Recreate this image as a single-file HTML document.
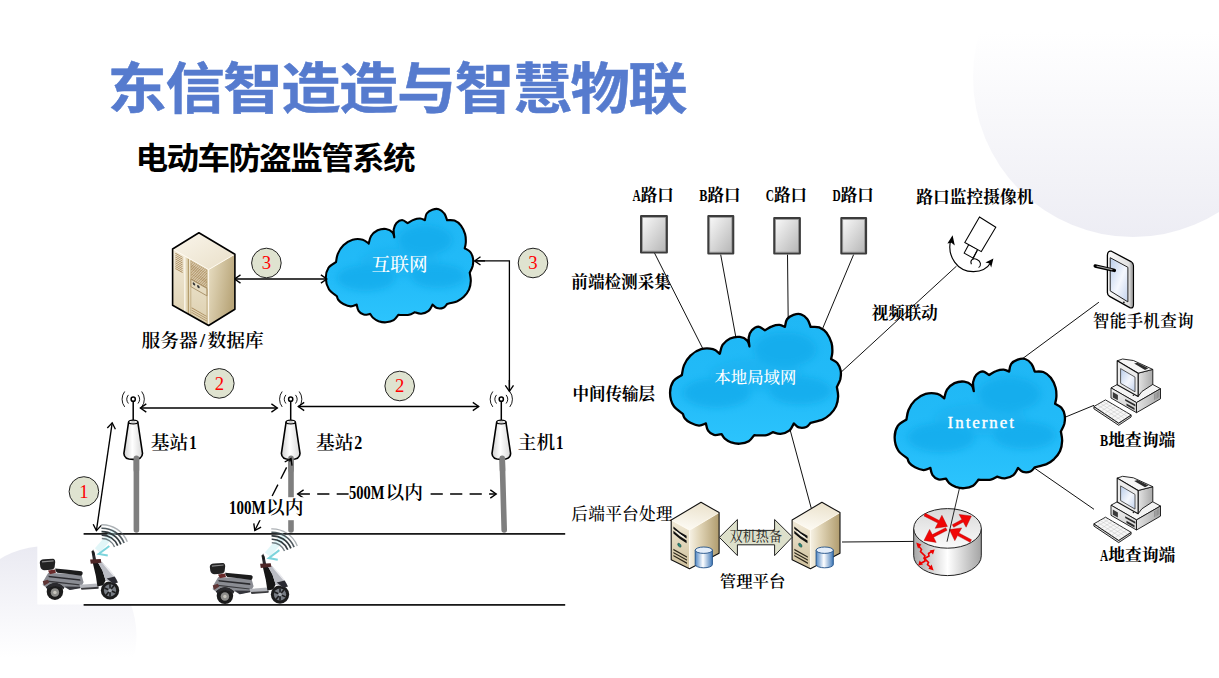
<!DOCTYPE html>
<html lang="zh"><head><meta charset="utf-8"><title>东信智造造与智慧物联</title>
<style>
html,body{margin:0;padding:0;background:#fff;}
body{width:1219px;height:678px;overflow:hidden;position:relative;}
svg{display:block;position:absolute;left:0;top:0;}
.t1{font-family:"Liberation Sans","Noto Sans CJK SC",sans-serif;font-weight:700;}
.sf{font-family:"Liberation Serif","Noto Serif CJK SC",serif;}
.mono{font-family:"Liberation Mono","Noto Serif CJK SC",monospace;}
</style></head><body>
<svg width="1219" height="678" viewBox="0 0 1219 678">
<defs>
<linearGradient id="gTR" x1="0" y1="0" x2="0" y2="1"><stop offset="0.36" stop-color="#ffffff"/><stop offset="1" stop-color="#ededf4"/></linearGradient>
<linearGradient id="gBL" x1="0" y1="0" x2="0" y2="1"><stop offset="0" stop-color="#eaeaf2"/><stop offset="0.32" stop-color="#f5f5f9"/><stop offset="0.62" stop-color="#ffffff"/></linearGradient>
<linearGradient id="gCloud" x1="0" y1="0" x2="0" y2="1"><stop offset="0" stop-color="#1fb7f5"/><stop offset="0.6" stop-color="#22bbf8"/><stop offset="1" stop-color="#2cc4fd"/></linearGradient>
<linearGradient id="gBox" x1="0" y1="0" x2="1" y2="1"><stop offset="0" stop-color="#fbfbfb"/><stop offset="1" stop-color="#b4b4b4"/></linearGradient>
<linearGradient id="gCone" x1="0" y1="0" x2="1" y2="0"><stop offset="0" stop-color="#d0d0d0"/><stop offset="0.45" stop-color="#ffffff"/><stop offset="1" stop-color="#d8d8d8"/></linearGradient>
<filter id="blur3" x="-30%" y="-30%" width="160%" height="160%"><feGaussianBlur stdDeviation="3"/></filter>
<filter id="blur1" x="-30%" y="-30%" width="160%" height="160%"><feGaussianBlur stdDeviation="0.7"/></filter>
</defs>
<circle cx="1133" cy="77" r="160" fill="url(#gTR)"/>
<circle cx="46.5" cy="636" r="90" fill="url(#gBL)"/>
<rect x="37.3" y="526.5" width="100" height="78" fill="#fff"/>
<rect x="207" y="534" width="93" height="70" fill="#fff"/>
<text class="t1" transform="translate(107.60 108.40) scale(1.06 0.968)" font-size="56" fill="#567bce" letter-spacing="-1.4" stroke="#567bce" stroke-width="0.5">东信智造造与智慧物联</text>
<text class="t1" transform="translate(135.60 168.80) scale(1.07 0.99)" font-size="30.5" fill="#000" letter-spacing="-1.58">电动车防盗监管系统</text>
<defs><path id="cloudp" d="M336.9 296.3C335.6 295.1 330.8 292.4 328.9 289.3C327.1 286.3 325.8 281.7 325.8 278.1C325.7 274.5 326.8 270.5 328.5 267.8C330.2 265.1 334.7 263.1 336.0 262.2C336.3 260.8 336.6 256.6 337.8 253.8C339.0 250.9 340.9 247.7 343.4 245.3C345.8 243.0 349.4 240.6 352.6 239.7C355.9 238.8 360.1 239.0 362.8 239.7C365.5 240.4 367.8 243.0 368.7 243.6C369.1 242.4 369.7 238.2 371.1 236.0C372.6 233.7 375.2 231.5 377.6 230.3C380.1 229.2 383.5 228.7 386.0 229.0C388.4 229.3 391.1 230.8 392.4 232.2C393.8 233.6 394.0 236.4 394.3 237.3C394.2 236.0 393.4 231.8 393.7 229.4C394.1 227.0 395.1 224.6 396.5 223.0C397.9 221.5 400.2 220.0 402.1 220.0C403.9 220.1 406.7 222.7 407.6 223.2C408.7 222.6 411.7 220.4 413.8 219.7C415.9 218.9 418.4 218.4 420.2 218.5C422.1 218.6 424.1 219.9 424.9 220.2C425.2 219.1 425.5 215.2 426.7 213.5C428.0 211.7 430.3 210.4 432.3 209.7C434.3 209.0 436.8 208.5 438.8 209.2C440.8 209.8 442.9 211.6 444.3 213.5C445.7 215.3 446.6 219.1 447.1 220.2C448.3 220.3 452.2 219.7 454.5 220.6C456.8 221.5 459.2 223.4 461.0 225.6C462.7 227.9 464.3 231.3 465.1 234.1C465.9 236.9 465.9 240.1 465.8 242.5C465.7 244.9 464.9 247.4 464.7 248.3C465.6 248.9 468.9 250.2 470.2 251.9C471.6 253.6 472.6 256.1 473.0 258.4C473.4 260.8 473.2 263.6 472.7 265.9C472.1 268.3 470.2 271.5 469.7 272.7C469.9 274.0 470.9 278.1 470.8 280.9C470.7 283.8 470.1 287.1 469.0 289.7C467.8 292.4 465.7 294.9 463.8 296.8C461.8 298.7 460.1 300.0 457.3 301.2C454.5 302.3 448.8 303.5 447.1 304.0C446.5 304.6 445.1 307.0 443.4 307.7C441.7 308.4 438.7 308.6 436.9 308.1C435.1 307.6 433.4 305.1 432.6 304.5C432.0 305.6 430.5 309.4 428.6 310.9C426.7 312.4 423.5 313.5 421.2 313.7C418.8 313.9 415.8 312.5 414.7 312.2C413.8 312.6 411.1 314.4 409.1 314.8C407.2 315.3 404.8 315.0 403.0 315.0C401.2 315.0 399.1 314.9 398.4 314.8C397.6 315.7 395.8 318.8 393.7 320.1C391.7 321.3 388.5 322.1 386.0 322.3C383.4 322.5 380.7 321.9 378.6 321.2C376.4 320.4 374.4 319.0 373.0 317.8C371.6 316.6 370.7 314.5 370.2 313.9C369.1 314.0 365.7 315.1 363.7 314.6C361.8 314.1 359.7 312.6 358.6 310.9C357.4 309.2 357.0 305.6 356.7 304.5C355.7 304.8 353.0 306.5 350.8 306.4C348.5 306.3 345.4 305.0 343.4 304.0C341.3 302.9 339.4 301.3 338.4 300.0C337.3 298.7 337.1 296.9 336.9 296.3Z"/><clipPath id="cloudclip"><use href="#cloudp"/></clipPath></defs>
<rect x="83.6" y="533.1" width="481.6" height="1.6" fill="#000"/>
<rect x="83.6" y="604.1" width="481.6" height="1.6" fill="#000"/>
<line x1="136.4" y1="458" x2="136.4" y2="530" stroke="#7f7f7f" stroke-width="5.6" stroke-linecap="round"/>
<line x1="291" y1="458" x2="291" y2="530" stroke="#7f7f7f" stroke-width="5.6" stroke-linecap="round"/>
<line x1="502.2" y1="458" x2="504.2" y2="530" stroke="#7f7f7f" stroke-width="5.6" stroke-linecap="round"/>
<g fill="none" stroke="#000"><path d="M128.4 394.9 A6.5 6.8 0 0 0 128.4 403.5" stroke-width="0.9"/><path d="M138.0 394.9 A6.5 6.8 0 0 1 138.0 403.5" stroke-width="0.9"/><path d="M124.7 391.5 A11.5 12.1 0 0 0 124.7 406.9" stroke-width="0.9"/><path d="M141.7 391.5 A11.5 12.1 0 0 1 141.7 406.9" stroke-width="0.9"/><line x1="133.2" y1="401.2" x2="133.2" y2="421" stroke-width="1.5"/><circle cx="133.2" cy="399.2" r="2.1" fill="#fff" stroke-width="1.5"/><path d="M128.6 422 L123.9 453.4 C124.0 458 128.7 459.4 133.2 459.4 C137.7 459.4 142.4 458 142.5 453.4 L137.8 422 Z" fill="url(#gCone)" stroke-width="1.6" stroke-linejoin="round"/><ellipse cx="133.2" cy="422" rx="4.6" ry="1.9" fill="#f4f4f4" stroke-width="1.2"/><ellipse cx="133.2" cy="422.3" rx="2.2" ry="0.8" fill="#ddd" stroke="#999" stroke-width="0.4"/></g>
<g fill="none" stroke="#000"><path d="M285.9 394.9 A6.5 6.8 0 0 0 285.9 403.5" stroke-width="0.9"/><path d="M295.5 394.9 A6.5 6.8 0 0 1 295.5 403.5" stroke-width="0.9"/><path d="M282.2 391.5 A11.5 12.1 0 0 0 282.2 406.9" stroke-width="0.9"/><path d="M299.2 391.5 A11.5 12.1 0 0 1 299.2 406.9" stroke-width="0.9"/><line x1="290.7" y1="401.2" x2="290.7" y2="421" stroke-width="1.5"/><circle cx="290.7" cy="399.2" r="2.1" fill="#fff" stroke-width="1.5"/><path d="M286.1 422 L281.4 453.4 C281.5 458 286.2 459.4 290.7 459.4 C295.2 459.4 299.9 458 300.0 453.4 L295.3 422 Z" fill="url(#gCone)" stroke-width="1.6" stroke-linejoin="round"/><ellipse cx="290.7" cy="422" rx="4.6" ry="1.9" fill="#f4f4f4" stroke-width="1.2"/><ellipse cx="290.7" cy="422.3" rx="2.2" ry="0.8" fill="#ddd" stroke="#999" stroke-width="0.4"/></g>
<g fill="none" stroke="#000"><path d="M496.5 394.9 A6.5 6.8 0 0 0 496.5 403.5" stroke-width="0.9"/><path d="M506.1 394.9 A6.5 6.8 0 0 1 506.1 403.5" stroke-width="0.9"/><path d="M492.8 391.5 A11.5 12.1 0 0 0 492.8 406.9" stroke-width="0.9"/><path d="M509.8 391.5 A11.5 12.1 0 0 1 509.8 406.9" stroke-width="0.9"/><line x1="501.3" y1="401.2" x2="501.3" y2="421" stroke-width="1.5"/><circle cx="501.3" cy="399.2" r="2.1" fill="#fff" stroke-width="1.5"/><path d="M496.7 422 L492.0 453.4 C492.1 458 496.8 459.4 501.3 459.4 C505.8 459.4 510.5 458 510.6 453.4 L505.9 422 Z" fill="url(#gCone)" stroke-width="1.6" stroke-linejoin="round"/><ellipse cx="501.3" cy="422" rx="4.6" ry="1.9" fill="#f4f4f4" stroke-width="1.2"/><ellipse cx="501.3" cy="422.3" rx="2.2" ry="0.8" fill="#ddd" stroke="#999" stroke-width="0.4"/></g>
<line x1="136.4" y1="458.2" x2="136.4" y2="470" stroke="#7f7f7f" stroke-width="5.6" stroke-linecap="round"/>
<line x1="291" y1="458.2" x2="291" y2="470" stroke="#7f7f7f" stroke-width="5.6" stroke-linecap="round"/>
<line x1="502.2" y1="458.2" x2="502.5" y2="470" stroke="#7f7f7f" stroke-width="5.6" stroke-linecap="round"/>
<circle cx="266.4" cy="263" r="14.8" fill="#dfe3d0" stroke="#222" stroke-width="1"/>
<text class="sf" x="266.4" y="269.3" font-size="18.7" fill="#f00" font-weight="500" text-anchor="middle">3</text>
<circle cx="533" cy="263" r="14.8" fill="#dfe3d0" stroke="#222" stroke-width="1"/>
<text class="sf" x="533" y="269.3" font-size="18.7" fill="#f00" font-weight="500" text-anchor="middle">3</text>
<circle cx="219.3" cy="383.4" r="14.8" fill="#dfe3d0" stroke="#222" stroke-width="1"/>
<text class="sf" x="219.3" y="389.7" font-size="18.7" fill="#f00" font-weight="500" text-anchor="middle">2</text>
<circle cx="399.7" cy="386" r="14.8" fill="#dfe3d0" stroke="#222" stroke-width="1"/>
<text class="sf" x="399.7" y="392.3" font-size="18.7" fill="#f00" font-weight="500" text-anchor="middle">2</text>
<circle cx="83.9" cy="491.5" r="14.8" fill="#dfe3d0" stroke="#222" stroke-width="1"/>
<text class="sf" x="83.9" y="497.8" font-size="18.7" fill="#f00" font-weight="500" text-anchor="middle">1</text>
<g transform="translate(326.00 208.30) scale(1 1) translate(-326 -208.3)">
<use href="#cloudp" fill="url(#gCloud)"/>
<g clip-path="url(#cloudclip)" filter="url(#blur3)" fill="#0ea5e6" opacity="0.55">
<ellipse cx="425" cy="240" rx="27" ry="15"/><ellipse cx="366" cy="278" rx="29" ry="13"/><ellipse cx="438" cy="276" rx="27" ry="12"/><ellipse cx="400" cy="262" rx="40" ry="14" opacity="0.5"/>
</g>
<use href="#cloudp" fill="none" stroke="#000" stroke-width="2.1" stroke-linejoin="round"/>
</g>
<text class="sf" x="371.6" y="270.6" font-size="18.7" fill="#fff" font-weight="500">互联网</text>
<line x1="234.6" y1="279.0" x2="326.8" y2="279.0" stroke="#000" stroke-width="1.35"/><polyline points="320.9,274.9 326.8,279.0 320.9,283.1" fill="none" stroke="#000" stroke-width="1.35" stroke-linejoin="miter"/><polyline points="240.5,283.1 234.6,279.0 240.5,274.9" fill="none" stroke="#000" stroke-width="1.35" stroke-linejoin="miter"/>
<polyline points="509.4,390 509.4,260.9 475.5,260.9" fill="none" stroke="#000" stroke-width="1.3"/>
<line x1="509.4" y1="380.0" x2="509.4" y2="391.3" stroke="#000" stroke-width="1.35"/><polyline points="513.5,385.4 509.4,391.3 505.3,385.4" fill="none" stroke="#000" stroke-width="1.35" stroke-linejoin="miter"/>
<line x1="485.0" y1="260.9" x2="474.6" y2="260.9" stroke="#000" stroke-width="1.35"/><polyline points="480.5,265.0 474.6,260.9 480.5,256.8" fill="none" stroke="#000" stroke-width="1.35" stroke-linejoin="miter"/>
<line x1="140.4" y1="408.0" x2="277.3" y2="408.0" stroke="#000" stroke-width="1.35"/><polyline points="271.4,403.9 277.3,408.0 271.4,412.1" fill="none" stroke="#000" stroke-width="1.35" stroke-linejoin="miter"/><polyline points="146.3,412.1 140.4,408.0 146.3,403.9" fill="none" stroke="#000" stroke-width="1.35" stroke-linejoin="miter"/>
<line x1="298.3" y1="406.5" x2="478.7" y2="406.5" stroke="#000" stroke-width="1.35"/><polyline points="472.8,402.4 478.7,406.5 472.8,410.6" fill="none" stroke="#000" stroke-width="1.35" stroke-linejoin="miter"/><polyline points="304.2,410.6 298.3,406.5 304.2,402.4" fill="none" stroke="#000" stroke-width="1.35" stroke-linejoin="miter"/>
<line x1="112.2" y1="422.8" x2="96.4" y2="530.6" stroke="#000" stroke-width="1.35"/><polyline points="101.3,525.4 96.4,530.6 93.2,524.2" fill="none" stroke="#000" stroke-width="1.35" stroke-linejoin="miter"/><polyline points="107.3,428.0 112.2,422.8 115.4,429.2" fill="none" stroke="#000" stroke-width="1.35" stroke-linejoin="miter"/>
<line x1="254.8" y1="530.5" x2="291.0" y2="458.6" stroke="#000" stroke-width="1.35" stroke-dasharray="12.8 6.5"/><polyline points="284.7,462.0 291.0,458.6 292.0,465.7" fill="none" stroke="#000" stroke-width="1.35" stroke-linejoin="miter"/><polyline points="261.1,527.1 254.8,530.5 253.8,523.4" fill="none" stroke="#000" stroke-width="1.35" stroke-linejoin="miter"/>
<line x1="297.7" y1="494.0" x2="348.6" y2="494.0" stroke="#000" stroke-width="1.35" stroke-dasharray="12.2 7.3"/><polyline points="303.6,498.1 297.7,494.0 303.6,489.9" fill="none" stroke="#000" stroke-width="1.35" stroke-linejoin="miter"/>
<line x1="430.6" y1="494.0" x2="496.2" y2="494.0" stroke="#000" stroke-width="1.35" stroke-dasharray="12.2 7.3"/><polyline points="490.3,489.9 496.2,494.0 490.3,498.1" fill="none" stroke="#000" stroke-width="1.35" stroke-linejoin="miter"/>
<defs><linearGradient id="twTop" x1="0" y1="0" x2="1" y2="1"><stop offset="0" stop-color="#faf6ec"/><stop offset="1" stop-color="#e9dfc8"/></linearGradient><linearGradient id="twL" x1="0" y1="0" x2="0" y2="1"><stop offset="0" stop-color="#f3ebd9"/><stop offset="1" stop-color="#dccfae"/></linearGradient><linearGradient id="twR" x1="0" y1="0" x2="1" y2="0.4"><stop offset="0" stop-color="#e9dfc4"/><stop offset="1" stop-color="#b9a67a"/></linearGradient></defs><g stroke-linejoin="round"><polygon points="198.9,232.8 234.9,254.2 208.6,269.6 172.6,249.0" fill="url(#twTop)"/><polygon points="172.6,249.0 208.6,269.6 208.6,325.5 172.6,305.3" fill="url(#twL)"/><polygon points="208.6,269.6 234.9,254.2 234.9,309.3 208.6,325.5" fill="url(#twR)"/><g transform="matrix(1 0.5722 0 1 172.6 249.0)"><rect x="11.4" y="0.5" width="5" height="55.5" fill="#e3d7b8"/><rect x="11.4" y="0.5" width="1.6" height="55.5" fill="#f8f3e6"/><rect x="15.2" y="0.5" width="1.2" height="55.5" fill="#b59e6e"/><rect x="2.8" y="2.2" width="7.2" height="0.9" fill="#a8895a"/><rect x="2.8" y="4.1" width="7.2" height="0.9" fill="#a8895a"/><rect x="2.8" y="6.0" width="7.2" height="0.9" fill="#a8895a"/><rect x="2.8" y="7.9" width="7.2" height="0.9" fill="#a8895a"/><rect x="2.8" y="9.8" width="7.2" height="0.9" fill="#a8895a"/><rect x="2.8" y="11.7" width="7.2" height="0.9" fill="#a8895a"/><rect x="2.8" y="13.6" width="7.2" height="0.9" fill="#a8895a"/><rect x="2.8" y="15.5" width="7.2" height="0.9" fill="#a8895a"/><rect x="2.8" y="17.4" width="7.2" height="0.9" fill="#a8895a"/><rect x="18.2" y="1.5" width="16.2" height="0.9" fill="#a8895a"/><rect x="18.2" y="3.0" width="16.2" height="0.9" fill="#a8895a"/><rect x="18.2" y="4.6" width="16.2" height="0.9" fill="#a8895a"/><rect x="18.2" y="6.2" width="16.2" height="0.9" fill="#a8895a"/><rect x="18.2" y="7.7" width="16.2" height="0.9" fill="#a8895a"/><rect x="18.2" y="9.2" width="16.2" height="0.9" fill="#a8895a"/><rect x="18.2" y="10.8" width="16.2" height="0.9" fill="#a8895a"/><rect x="18.2" y="12.3" width="16.2" height="0.9" fill="#a8895a"/><rect x="18.2" y="13.9" width="16.2" height="0.9" fill="#a8895a"/><rect x="18.2" y="15.5" width="16.2" height="0.9" fill="#a8895a"/><rect x="18.2" y="17.0" width="16.2" height="0.9" fill="#a8895a"/><rect x="18.2" y="18.6" width="16.2" height="0.9" fill="#a8895a"/><rect x="18.2" y="19.8" width="16.2" height="7.4" fill="#e6dbc0" stroke="#9a8258" stroke-width="0.7"/><circle cx="21.4" cy="22.7" r="1.3" fill="#333"/><circle cx="25.8" cy="22.9" r="1.3" fill="#333"/><rect x="18.2" y="0.8" width="16.2" height="54.6" fill="none" stroke="#b59e6e" stroke-width="0.6"/><rect x="19" y="47.5" width="15" height="0.8" fill="#a8895a"/><rect x="19" y="49.8" width="15" height="0.8" fill="#a8895a"/><rect x="19" y="52.1" width="15" height="0.8" fill="#a8895a"/></g><polyline points="172.6,249.0 208.6,269.6 234.9,254.2" fill="none" stroke="#fffaf0" stroke-width="1"/><line x1="208.6" y1="269.6" x2="208.6" y2="325.5" stroke="#fffaf0" stroke-width="0.9"/><polygon points="198.9,232.8 234.9,254.2 234.9,309.3 208.6,325.5 172.6,305.3 172.6,249.0" fill="none" stroke="#000" stroke-width="1.6"/></g>
<text class="sf" transform="translate(141.60 347.00) scale(1 1)" font-size="18.7" fill="#000" font-weight="600">服务器</text>
<text class="sf" transform="translate(200.00 347.00) scale(1 1)" font-size="18.7" fill="#000" font-weight="600">/</text>
<text class="sf" transform="translate(207.60 347.00) scale(1 1)" font-size="18.7" fill="#000" font-weight="600">数据库</text>
<text class="sf" transform="translate(150.80 449.20) scale(1 1)" font-size="18.7" fill="#000" font-weight="600">基站</text>
<text class="sf" transform="translate(316.00 449.20) scale(1 1)" font-size="18.7" fill="#000" font-weight="600">基站</text>
<text class="sf" transform="translate(517.80 449.20) scale(1 1)" font-size="18.7" fill="#000" font-weight="600">主机</text>
<text class="sf" x="189.2" y="449.2" font-size="18.7" fill="#000" textLength="7.5" lengthAdjust="spacingAndGlyphs" font-weight="600">1</text>
<text class="sf" x="354.2" y="449.2" font-size="18.7" fill="#000" textLength="8.0" lengthAdjust="spacingAndGlyphs" font-weight="600">2</text>
<text class="sf" x="556.0" y="449.2" font-size="18.7" fill="#000" textLength="7.5" lengthAdjust="spacingAndGlyphs" font-weight="600">1</text>
<rect x="228" y="497.2" width="76" height="23" fill="#fff"/>
<text class="sf" x="229.0" y="514.3" font-size="18.7" fill="#000" textLength="36.6" lengthAdjust="spacingAndGlyphs" font-weight="600">100M</text>
<text class="sf" transform="translate(266.00 514.30) scale(1 1)" font-size="18.7" fill="#000" font-weight="600">以内</text>
<text class="sf" x="349.0" y="499.4" font-size="18.7" fill="#000" textLength="35.5" lengthAdjust="spacingAndGlyphs" font-weight="600">500M</text>
<text class="sf" transform="translate(385.50 499.40) scale(1 1)" font-size="18.7" fill="#000" font-weight="600">以内</text>
<line x1="654.2" y1="252.4" x2="703.0" y2="349.0" stroke="#111" stroke-width="1.0"/>
<line x1="720.7" y1="254.6" x2="736.0" y2="338.0" stroke="#111" stroke-width="1.0"/>
<line x1="787.5" y1="254.6" x2="788.2" y2="320.0" stroke="#111" stroke-width="1.0"/>
<line x1="853.6" y1="254.6" x2="822.0" y2="330.0" stroke="#111" stroke-width="1.0"/>
<line x1="956.5" y1="266.1" x2="838.0" y2="375.0" stroke="#111" stroke-width="1.0"/>
<line x1="790.0" y1="429.5" x2="811.2" y2="508.0" stroke="#111" stroke-width="1.0"/>
<line x1="842.0" y1="542.0" x2="914.5" y2="541.4" stroke="#111" stroke-width="1.0"/>
<line x1="1098.9" y1="302.2" x2="1020.0" y2="360.5" stroke="#111" stroke-width="1.0"/>
<line x1="1094.0" y1="405.3" x2="1062.0" y2="418.5" stroke="#111" stroke-width="1.0"/>
<line x1="1094.0" y1="509.3" x2="1030.0" y2="465.0" stroke="#111" stroke-width="1.0"/>
<rect x="641.1" y="216.2" width="25.7" height="36.3" fill="url(#gBox)" stroke="#3c3c3c" stroke-width="2.2" stroke-linejoin="round"/>
<rect x="642.5" y="217.6" width="22.9" height="33.5" fill="none" stroke="#8a8a8a" stroke-width="0.6"/>
<rect x="708.4" y="216.2" width="24.8" height="37.3" fill="url(#gBox)" stroke="#3c3c3c" stroke-width="2.2" stroke-linejoin="round"/>
<rect x="709.8" y="217.6" width="22.0" height="34.5" fill="none" stroke="#8a8a8a" stroke-width="0.6"/>
<rect x="774.3" y="218.1" width="25.5" height="35.4" fill="url(#gBox)" stroke="#3c3c3c" stroke-width="2.2" stroke-linejoin="round"/>
<rect x="775.7" y="219.5" width="22.7" height="32.6" fill="none" stroke="#8a8a8a" stroke-width="0.6"/>
<rect x="841.4" y="218.1" width="24.6" height="35.4" fill="url(#gBox)" stroke="#3c3c3c" stroke-width="2.2" stroke-linejoin="round"/>
<rect x="842.8" y="219.5" width="21.8" height="32.6" fill="none" stroke="#8a8a8a" stroke-width="0.6"/>
<g transform="translate(670.30 313.30) scale(1.159 1.144) translate(-326 -208.3)">
<use href="#cloudp" fill="url(#gCloud)"/>
<g clip-path="url(#cloudclip)" filter="url(#blur3)" fill="#0ea5e6" opacity="0.55">
<ellipse cx="425" cy="240" rx="27" ry="15"/><ellipse cx="366" cy="278" rx="29" ry="13"/><ellipse cx="438" cy="276" rx="27" ry="12"/><ellipse cx="400" cy="262" rx="40" ry="14" opacity="0.5"/>
</g>
<use href="#cloudp" fill="none" stroke="#000" stroke-width="2.0" stroke-linejoin="round"/>
</g>
<g transform="translate(894.90 358.00) scale(1.155 1.142) translate(-326 -208.3)">
<use href="#cloudp" fill="url(#gCloud)"/>
<g clip-path="url(#cloudclip)" filter="url(#blur3)" fill="#0ea5e6" opacity="0.55">
<ellipse cx="425" cy="240" rx="27" ry="15"/><ellipse cx="366" cy="278" rx="29" ry="13"/><ellipse cx="438" cy="276" rx="27" ry="12"/><ellipse cx="400" cy="262" rx="40" ry="14" opacity="0.5"/>
</g>
<use href="#cloudp" fill="none" stroke="#000" stroke-width="2.0" stroke-linejoin="round"/>
</g>
<text class="sf" transform="translate(714.40 383.20) scale(1 1)" font-size="16.4" fill="#fff" font-weight="500">本地局域网</text>
<text class="sf" x="947.6" y="427.8" font-size="17" fill="#fff" font-weight="400" stroke="#fff" stroke-width="0.35" textLength="66.4" lengthAdjust="spacing">Internet</text>
<text class="sf" x="632.5" y="200.5" font-size="16.5" fill="#000" textLength="8.2" lengthAdjust="spacingAndGlyphs" font-weight="700">A</text>
<text class="sf" transform="translate(640.70 200.50) scale(1 1)" font-size="16.5" fill="#000" font-weight="700">路口</text>
<text class="sf" x="699.2" y="200.5" font-size="16.5" fill="#000" textLength="8.2" lengthAdjust="spacingAndGlyphs" font-weight="700">B</text>
<text class="sf" transform="translate(707.40 200.50) scale(1 1)" font-size="16.5" fill="#000" font-weight="700">路口</text>
<text class="sf" x="765.8" y="201.3" font-size="16.5" fill="#000" textLength="8.2" lengthAdjust="spacingAndGlyphs" font-weight="700">C</text>
<text class="sf" transform="translate(774.00 201.30) scale(1 1)" font-size="16.5" fill="#000" font-weight="700">路口</text>
<text class="sf" x="832.5" y="201.3" font-size="16.5" fill="#000" textLength="8.2" lengthAdjust="spacingAndGlyphs" font-weight="700">D</text>
<text class="sf" transform="translate(840.70 201.30) scale(1 1)" font-size="16.5" fill="#000" font-weight="700">路口</text>
<text class="sf" transform="translate(571.30 288.30) scale(1 1)" font-size="16.6" fill="#000" font-weight="700">前端检测采集</text>
<text class="sf" transform="translate(572.40 400.00) scale(1 1)" font-size="16.5" fill="#000" font-weight="700">中间传输层</text>
<text class="sf" transform="translate(571.30 520.40) scale(1 1)" font-size="16.7" fill="#000" letter-spacing="0.25" font-weight="500">后端平台处理</text>
<text class="sf" transform="translate(916.20 202.80) scale(1 1)" font-size="16.75" fill="#000" font-weight="700">路口监控摄像机</text>
<text class="sf" transform="translate(871.80 318.60) scale(1 1)" font-size="16.5" fill="#000" font-weight="700">视频联动</text>
<text class="sf" transform="translate(1092.80 327.30) scale(1 1)" font-size="16.6" fill="#000" letter-spacing="0.25" font-weight="600">智能手机查询</text>
<text class="sf" x="1100.0" y="446.0" font-size="16.8" fill="#000" textLength="8.2" lengthAdjust="spacingAndGlyphs" font-weight="700">B</text>
<text class="sf" transform="translate(1108.20 446.00) scale(1 1)" font-size="16.8" fill="#000" font-weight="700">地查询端</text>
<text class="sf" x="1100.0" y="560.8" font-size="16.8" fill="#000" textLength="8.2" lengthAdjust="spacingAndGlyphs" font-weight="700">A</text>
<text class="sf" transform="translate(1108.20 560.80) scale(1 1)" font-size="16.8" fill="#000" font-weight="700">地查询端</text>
<text class="sf" transform="translate(719.80 587.40) scale(1 1)" font-size="16.4" fill="#000" font-weight="600">管理平台</text>
<defs>
<linearGradient id="svTop" x1="0.6" y1="0" x2="0.3" y2="1"><stop offset="0" stop-color="#ebe2cc"/><stop offset="1" stop-color="#fdfbf5"/></linearGradient>
<linearGradient id="svF" x1="0" y1="0" x2="0" y2="1"><stop offset="0" stop-color="#f1e9d6"/><stop offset="1" stop-color="#cfc09c"/></linearGradient>
<linearGradient id="svS" x1="0" y1="0" x2="1" y2="0"><stop offset="0" stop-color="#f6f1e4"/><stop offset="0.35" stop-color="#e0d4b6"/><stop offset="1" stop-color="#b09c6e"/></linearGradient>
<linearGradient id="dbG" x1="0" y1="0" x2="1" y2="0"><stop offset="0" stop-color="#4f86c4"/><stop offset="0.45" stop-color="#ffffff"/><stop offset="1" stop-color="#3f78b8"/></linearGradient>
<linearGradient id="rtG" x1="0" y1="0" x2="1" y2="0"><stop offset="0" stop-color="#a8a8a8"/><stop offset="0.5" stop-color="#ffffff"/><stop offset="1" stop-color="#a4a4a4"/></linearGradient>
<linearGradient id="rtT" x1="0" y1="0" x2="0" y2="1"><stop offset="0" stop-color="#d9d9d9"/><stop offset="1" stop-color="#fafafa"/></linearGradient>
<linearGradient id="scrG" x1="0" y1="0" x2="1" y2="1"><stop offset="0" stop-color="#b9cdea"/><stop offset="0.55" stop-color="#f4f7fd"/><stop offset="1" stop-color="#c3d3ee"/></linearGradient>
<linearGradient id="phG" x1="0" y1="0" x2="1" y2="0"><stop offset="0" stop-color="#fafafa"/><stop offset="0.8" stop-color="#e2e2e2"/><stop offset="1" stop-color="#b8b8b8"/></linearGradient>
</defs>
<g stroke-linejoin="round"><polygon points="701.0,502.3 719.1,512.6 689.5,530.2 671.2,520.0" fill="url(#svTop)"/><polygon points="671.2,520.0 689.5,530.2 689.5,568.8 671.2,559.7" fill="url(#svF)"/><polygon points="689.5,530.2 719.1,512.6 719.1,553.2 689.5,568.8" fill="url(#svS)"/><g transform="matrix(1 0.5574 0 1 671.2 520.0)"><path d="M2.2 5.2 Q8 7.6 15.4 7.2 L15.4 9.8 Q8 9.6 2.2 7.6Z" fill="#111"/><path d="M2.2 9.6 Q8 12.2 15.4 11.8 L15.4 14.6 Q8 14.4 2.2 12.2Z" fill="#111"/><path d="M5 8.6 Q9 10 13 10.2" stroke="#fff" stroke-width="0.9" fill="none"/><circle cx="8.2" cy="20.6" r="1.7" fill="#2a8a78" stroke="#144" stroke-width="0.5"/><rect x="2.2" y="27.6" width="13.6" height="1.3" fill="#2a2418"/><rect x="2.2" y="30.7" width="13.6" height="1.3" fill="#2a2418"/><rect x="2.2" y="33.8" width="13.6" height="1.3" fill="#2a2418"/></g><polyline points="671.2,520.0 689.5,530.2 719.1,512.6" fill="none" stroke="#fffaf0" stroke-width="0.9"/><line x1="689.5" y1="530.2" x2="689.5" y2="568.8" stroke="#fffaf0" stroke-width="0.8"/><polygon points="701.0,502.3 719.1,512.6 719.1,553.2 689.5,568.8 671.2,559.7 671.2,520.0" fill="none" stroke="#111" stroke-width="1.1"/><path d="M695.2 550.2 L695.2 564.6 A8.6 3.2 0 0 0 712.4 564.6 L712.4 550.2 Z" fill="url(#dbG)" stroke="#1f4f86" stroke-width="0.9"/><ellipse cx="703.8" cy="550.2" rx="8.6" ry="3.2" fill="#e4eefa" stroke="#1f4f86" stroke-width="0.9"/></g>
<g stroke-linejoin="round"><polygon points="821.9,502.3 840.0,512.6 810.4,530.2 792.1,520.0" fill="url(#svTop)"/><polygon points="792.1,520.0 810.4,530.2 810.4,568.8 792.1,559.7" fill="url(#svF)"/><polygon points="810.4,530.2 840.0,512.6 840.0,553.2 810.4,568.8" fill="url(#svS)"/><g transform="matrix(1 0.5574 0 1 792.1 520.0)"><path d="M2.2 5.2 Q8 7.6 15.4 7.2 L15.4 9.8 Q8 9.6 2.2 7.6Z" fill="#111"/><path d="M2.2 9.6 Q8 12.2 15.4 11.8 L15.4 14.6 Q8 14.4 2.2 12.2Z" fill="#111"/><path d="M5 8.6 Q9 10 13 10.2" stroke="#fff" stroke-width="0.9" fill="none"/><circle cx="8.2" cy="20.6" r="1.7" fill="#2a8a78" stroke="#144" stroke-width="0.5"/><rect x="2.2" y="27.6" width="13.6" height="1.3" fill="#2a2418"/><rect x="2.2" y="30.7" width="13.6" height="1.3" fill="#2a2418"/><rect x="2.2" y="33.8" width="13.6" height="1.3" fill="#2a2418"/></g><polyline points="792.1,520.0 810.4,530.2 840.0,512.6" fill="none" stroke="#fffaf0" stroke-width="0.9"/><line x1="810.4" y1="530.2" x2="810.4" y2="568.8" stroke="#fffaf0" stroke-width="0.8"/><polygon points="821.9,502.3 840.0,512.6 840.0,553.2 810.4,568.8 792.1,559.7 792.1,520.0" fill="none" stroke="#111" stroke-width="1.1"/><path d="M816.1 550.2 L816.1 564.6 A8.6 3.2 0 0 0 833.3 564.6 L833.3 550.2 Z" fill="url(#dbG)" stroke="#1f4f86" stroke-width="0.9"/><ellipse cx="824.7" cy="550.2" rx="8.6" ry="3.2" fill="#e4eefa" stroke="#1f4f86" stroke-width="0.9"/></g>
<polygon points="719.4,537.4 737.4,519.5 737.4,530.4 774.6,530.4 774.6,519.5 792.4,537 774.6,555.6 774.6,544.8 737.4,544.8 737.4,555.6" fill="#dde0cb" stroke="#222" stroke-width="1" stroke-linejoin="miter"/>
<text class="sf" transform="translate(729.60 541.20) scale(1 1)" font-size="13.1" fill="#222" font-weight="400">双机热备</text>
<g><path d="M913.7 528.4 L913.7 555.8 A33.8 19.8 0 0 0 981.3 555.8 L981.3 528.4 Z" fill="url(#rtG)" stroke="#222" stroke-width="1"/><ellipse cx="947.5" cy="528.4" rx="33.8" ry="19.8" fill="url(#rtT)" stroke="#222" stroke-width="1"/><polygon points="923.9,515.9 937.9,523.1 935.2,528.3 947.4,526.4 941.9,515.3 939.2,520.5 925.3,513.3" fill="#f00505" stroke="#a00" stroke-width="0.4"/><polygon points="953.7,527.3 963.3,522.0 966.1,527.2 971.4,516.0 959.1,514.4 961.9,519.5 952.3,524.7" fill="#f00505" stroke="#a00" stroke-width="0.4"/><polygon points="971.5,539.7 958.9,533.0 961.7,527.9 949.4,529.6 954.8,540.7 957.5,535.6 970.1,542.3" fill="#f00505" stroke="#a00" stroke-width="0.4"/><polygon points="945.7,527.7 932.3,534.6 929.6,529.4 924.0,540.4 936.2,542.4 933.6,537.2 947.1,530.3" fill="#f00505" stroke="#a00" stroke-width="0.4"/><g stroke="#e00" stroke-width="1.6" fill="none" stroke-linejoin="miter"><polyline points="918,545 921.5,549.5 920.5,551.5 925,556 924,558 928.5,562.5 927.5,564.5 931.5,568"/><polyline points="932.5,551 928.5,553.5 929,556 924.5,558.5 925,561 920.5,563.5"/></g><g fill="#e00"><polygon points="916.2,542.4 921.4,544.4 918,548.4"/><polygon points="933.6,570.4 928.4,568.8 931.6,564.6"/><polygon points="934.6,549.4 933,554.4 929.6,550.4"/><polygon points="918.2,565.4 919.6,560.6 923,564.4"/></g></g>
<line x1="959.3" y1="488.9" x2="947.0" y2="541.7" stroke="#111" stroke-width="0.9"/>
<g fill="#fff" stroke="#000" stroke-width="1.05" stroke-linejoin="miter"><polygon points="968.8,244.4 977.8,249.2 973.1,258.1 964.2,253.1"/><polygon points="979.5,217 995.8,227.2 981.3,251.6 964.8,242.5"/><line x1="977.2" y1="250.4" x2="972.6" y2="259.4"/><path d="M971.4 264.2 C969.6 260.2 973 257.6 977 259.4 C981 261.2 981.6 265.4 978.6 267.6" fill="none"/><path d="M950.4 241.5 C947.4 256 957 271.8 973.6 271.6 C981.6 271.5 987.6 268 991 262.2" fill="none" stroke-width="1.15"/><polygon points="952.6,235.2 954.8,245.4 951.4,242.8 947.4,243.6" fill="#000" stroke="none"/><polygon points="993.4,258.4 991.2,267.6 989.6,263.4 985.4,262.6" fill="#000" stroke="none"/></g>
<g stroke-linejoin="round"><path d="M1107.4 255.2 Q1107.6 250.6 1111.4 251.2 L1131 261.6 Q1133.4 263 1133.4 265.6 L1133.4 305 Q1133.2 309 1129.8 307.6 L1109.6 296.4 Q1107.4 295.2 1107.4 292.6 Z" fill="url(#phG)" stroke="#000" stroke-width="1.3"/><path d="M1131.2 262.4 L1131.2 307" fill="none" stroke="#999" stroke-width="0.8"/><polygon points="1110.2,257.7 1127.9,267.3 1127.9,301.9 1110.2,290.9" fill="url(#scrG)" stroke="#222" stroke-width="1"/><circle cx="1123.8" cy="302.4" r="1" fill="#222"/><line x1="1095.2" y1="266" x2="1114.4" y2="270.4" stroke="#000" stroke-width="3.4" stroke-linecap="round"/><line x1="1097" y1="266.2" x2="1112" y2="269.6" stroke="#9a9a9a" stroke-width="1.1" stroke-linecap="round"/></g>
<defs>
<linearGradient id="pcS" x1="0" y1="0" x2="1" y2="0"><stop offset="0" stop-color="#e4e4e4"/><stop offset="1" stop-color="#a9a9a9"/></linearGradient>
<linearGradient id="pcF" x1="0" y1="0" x2="0" y2="1"><stop offset="0" stop-color="#f2f2f2"/><stop offset="1" stop-color="#cfcfcf"/></linearGradient>
</defs>
<g stroke="#111" stroke-width="0.9" stroke-linejoin="round"><polygon points="1111.0,387.9 1136.5,402.6 1160.5,388.7 1135.0,374.8" fill="#f4f4f4"/><polygon points="1111.0,387.9 1136.5,402.6 1136.5,412.7 1111.0,398.0" fill="url(#pcF)"/><polygon points="1136.5,402.6 1160.5,388.7 1160.5,398.8 1136.5,412.7" fill="url(#pcS)"/><polygon points="1112.8,392.1 1117.9,395.1 1117.9,400.3 1112.8,397.4" fill="#3a3a3a" stroke="none"/><polygon points="1125.2,398.9 1135.4,404.5 1135.4,406.4 1125.2,400.8" fill="#2a2a2a" stroke="none"/><polygon points="1126.5,403.4 1134.5,407.9 1134.5,410.1 1126.5,405.6" fill="#2a2a2a" stroke="none"/><line x1="1154.6" y1="393.7" x2="1154.6" y2="399.9" stroke="#777" stroke-width="0.6"/><line x1="1156.0" y1="392.9" x2="1156.0" y2="399.1" stroke="#777" stroke-width="0.6"/><line x1="1157.4" y1="392.1" x2="1157.4" y2="398.2" stroke="#777" stroke-width="0.6"/><line x1="1158.8" y1="391.2" x2="1158.8" y2="397.4" stroke="#777" stroke-width="0.6"/><polygon points="1138.1,373.2 1152.8,369.4 1152.8,384.4 1141.9,391.5 1138.1,396.5" fill="url(#pcS)"/><polygon points="1117.2,360.8 1122.6,359.0 1133.4,360.5 1152.8,369.4 1138.1,373.2" fill="#f6f6f6"/><polygon points="1134.2,363.6 1137.6,362.7 1148.4,368.3 1145.0,370.0" fill="#2c2c2c" stroke="none"/><polygon points="1117.2,360.8 1138.1,373.2 1138.1,396.5 1117.2,384.8" fill="#ececec" stroke-width="1.1"/><polygon points="1120.6,368.6 1135.0,377.1 1135.0,391.8 1120.6,383.3" fill="url(#scrG)" stroke="#333" stroke-width="0.8"/><circle cx="1133.4" cy="395.2" r="0.8" fill="#222" stroke="none"/><polygon points="1093.9,406.5 1093.9,408.8 1118.7,425.3 1131.1,417.0 1131.1,415.0 1118.7,423.1" fill="#d6d6d6"/><polygon points="1093.9,406.5 1105.5,399.9 1131.1,415.0 1118.7,423.1" fill="#f7f7f7"/><line x1="1097.2" y1="404.7" x2="1122.2" y2="420.8" stroke="#c4c4c4" stroke-width="0.5"/><line x1="1100.0" y1="403.1" x2="1125.2" y2="418.9" stroke="#c4c4c4" stroke-width="0.5"/><line x1="1102.8" y1="401.5" x2="1128.1" y2="417.0" stroke="#c4c4c4" stroke-width="0.5"/><line x1="1097.4" y1="408.8" x2="1109.1" y2="402.0" stroke="#c4c4c4" stroke-width="0.5"/><line x1="1100.9" y1="411.2" x2="1112.7" y2="404.1" stroke="#c4c4c4" stroke-width="0.5"/><line x1="1104.3" y1="413.5" x2="1116.3" y2="406.2" stroke="#c4c4c4" stroke-width="0.5"/><line x1="1107.8" y1="415.8" x2="1119.9" y2="408.4" stroke="#c4c4c4" stroke-width="0.5"/><line x1="1111.3" y1="418.1" x2="1123.4" y2="410.5" stroke="#c4c4c4" stroke-width="0.5"/><line x1="1114.7" y1="420.4" x2="1127.0" y2="412.6" stroke="#c4c4c4" stroke-width="0.5"/></g>
<g stroke="#111" stroke-width="0.9" stroke-linejoin="round"><polygon points="1111.0,505.2 1136.5,519.9 1160.5,506.0 1135.0,492.1" fill="#f4f4f4"/><polygon points="1111.0,505.2 1136.5,519.9 1136.5,530.0 1111.0,515.3" fill="url(#pcF)"/><polygon points="1136.5,519.9 1160.5,506.0 1160.5,516.1 1136.5,530.0" fill="url(#pcS)"/><polygon points="1112.8,509.4 1117.9,512.4 1117.9,517.6 1112.8,514.7" fill="#3a3a3a" stroke="none"/><polygon points="1125.2,516.2 1135.4,521.8 1135.4,523.7 1125.2,518.1" fill="#2a2a2a" stroke="none"/><polygon points="1126.5,520.7 1134.5,525.2 1134.5,527.4 1126.5,522.9" fill="#2a2a2a" stroke="none"/><line x1="1154.6" y1="511.0" x2="1154.6" y2="517.2" stroke="#777" stroke-width="0.6"/><line x1="1156.0" y1="510.2" x2="1156.0" y2="516.4" stroke="#777" stroke-width="0.6"/><line x1="1157.4" y1="509.4" x2="1157.4" y2="515.5" stroke="#777" stroke-width="0.6"/><line x1="1158.8" y1="508.5" x2="1158.8" y2="514.7" stroke="#777" stroke-width="0.6"/><polygon points="1138.1,490.5 1152.8,486.7 1152.8,501.7 1141.9,508.8 1138.1,513.8" fill="url(#pcS)"/><polygon points="1117.2,478.1 1122.6,476.3 1133.4,477.8 1152.8,486.7 1138.1,490.5" fill="#f6f6f6"/><polygon points="1134.2,480.9 1137.6,480.0 1148.4,485.6 1145.0,487.3" fill="#2c2c2c" stroke="none"/><polygon points="1117.2,478.1 1138.1,490.5 1138.1,513.8 1117.2,502.1" fill="#ececec" stroke-width="1.1"/><polygon points="1120.6,485.9 1135.0,494.4 1135.0,509.1 1120.6,500.6" fill="url(#scrG)" stroke="#333" stroke-width="0.8"/><circle cx="1133.4" cy="512.5" r="0.8" fill="#222" stroke="none"/><polygon points="1093.9,523.8 1093.9,526.1 1118.7,542.6 1131.1,534.3 1131.1,532.3 1118.7,540.4" fill="#d6d6d6"/><polygon points="1093.9,523.8 1105.5,517.2 1131.1,532.3 1118.7,540.4" fill="#f7f7f7"/><line x1="1097.2" y1="522.0" x2="1122.2" y2="538.1" stroke="#c4c4c4" stroke-width="0.5"/><line x1="1100.0" y1="520.4" x2="1125.2" y2="536.2" stroke="#c4c4c4" stroke-width="0.5"/><line x1="1102.8" y1="518.8" x2="1128.1" y2="534.3" stroke="#c4c4c4" stroke-width="0.5"/><line x1="1097.4" y1="526.1" x2="1109.1" y2="519.3" stroke="#c4c4c4" stroke-width="0.5"/><line x1="1100.9" y1="528.5" x2="1112.7" y2="521.4" stroke="#c4c4c4" stroke-width="0.5"/><line x1="1104.3" y1="530.8" x2="1116.3" y2="523.5" stroke="#c4c4c4" stroke-width="0.5"/><line x1="1107.8" y1="533.1" x2="1119.9" y2="525.7" stroke="#c4c4c4" stroke-width="0.5"/><line x1="1111.3" y1="535.4" x2="1123.4" y2="527.8" stroke="#c4c4c4" stroke-width="0.5"/><line x1="1114.7" y1="537.7" x2="1127.0" y2="529.9" stroke="#c4c4c4" stroke-width="0.5"/></g>
<defs><filter id="blurS" x="-10%" y="-10%" width="120%" height="120%"><feGaussianBlur stdDeviation="6"/></filter><filter id="blurS2" x="-10%" y="-10%" width="120%" height="120%"><feGaussianBlur stdDeviation="3.5"/></filter><filter id="blurW" x="-10%" y="-10%" width="120%" height="120%"><feGaussianBlur stdDeviation="1.5"/></filter></defs>
<g id="scooter" transform="translate(35 520) scale(0.1328)">
<!-- signal -->
<g fill="none" stroke-linecap="butt" filter="url(#blurS2)">
<path d="M470 230 L600 80" stroke="#c4eef1" stroke-width="50" opacity="0.5"/>
<path d="M560 196 L480 256 L548 268" stroke="#6fcfd8" stroke-width="15" opacity="0.9"/>
<path d="M503 140 A100 100 0 0 1 599 203" stroke="#4a555c" stroke-width="11" opacity="0.75"/>
<path d="M502 114 A126 126 0 0 1 623 193" stroke="#2a3338" stroke-width="12.5" opacity="0.95"/>
<path d="M501 88 A152 152 0 0 1 647 183" stroke="#262f34" stroke-width="13" opacity="0.95"/>
<path d="M500 62 A178 178 0 0 1 671 173" stroke="#343e44" stroke-width="12.5" opacity="0.85"/>
<path d="M499 36 A204 204 0 0 1 695 164" stroke="#59646b" stroke-width="10" opacity="0.5"/>
</g>
<g filter="url(#blurS)">
<!-- rear wheel -->
<circle cx="150" cy="540" r="62" fill="#1b1b1b"/>
<circle cx="150" cy="545" r="32" fill="#8d8d8a"/>
<circle cx="150" cy="545" r="13" fill="#c8c6bd"/>
<!-- front wheel -->
<circle cx="565" cy="530" r="69" fill="#1d1d1f"/>
<circle cx="565" cy="530" r="46" fill="#777b83"/>
<g stroke="#1d1d1f" stroke-width="12"><line x1="565" y1="484" x2="565" y2="576"/><line x1="523" y1="512" x2="607" y2="548"/><line x1="535" y1="566" x2="595" y2="494"/></g>
<circle cx="565" cy="530" r="14" fill="#a4a9b0"/>
<!-- rear body -->
<path d="M62 462 L100 398 L350 412 L366 468 L345 508 L262 528 L222 506 Q150 440 80 505 L58 490 Z" fill="#8a8c93"/>
<path d="M100 420 L340 446 L342 458 L105 432 Z" fill="#2a2a2e"/>
<path d="M95 456 L335 484 L338 493 L100 466 Z" fill="#38383c"/>
<path d="M80 505 Q150 440 222 506 L214 522 Q150 474 92 522 Z" fill="#2a2a2e"/>
<path d="M222 500 L345 502 L340 514 L262 528 Z" fill="#34343a"/>
<path d="M58 462 L96 450 L108 470 L70 494 Z" fill="#5e3434"/>
<!-- seat -->
<path d="M152 366 Q250 376 350 386 Q364 394 358 408 L348 420 Q250 404 168 398 Q150 390 152 366 Z" fill="#1c1c1e"/>
<!-- trunk -->
<path d="M36 322 Q36 298 68 296 L135 292 Q152 294 152 318 L148 352 Q146 372 120 374 L72 378 Q46 376 40 352 Z" fill="#202022"/>
<path d="M52 316 L140 308" stroke="#8a8a8a" stroke-width="9" fill="none"/>
<path d="M98 380 L150 372 L158 398 L112 408 Z" fill="#6a2c2c"/>
<!-- floor -->
<path d="M335 488 L470 478 L480 505 L345 515 Z" fill="#b4b6bc"/>
<path d="M345 512 L480 503 L478 517 L350 526 Z" fill="#3a3a3e"/>
<!-- front shield -->
<path d="M434 318 L470 312 L508 380 L532 455 L512 492 L470 500 L458 420 Z" fill="#161618"/>
<path d="M470 312 L505 316 L580 398 L618 452 L588 472 L532 455 L508 380 Z" fill="#babcc3"/>
<path d="M500 318 L560 368 L604 428 L618 452 L572 402 Z" fill="#ececf0"/>
<path d="M540 440 L600 425 L625 470 L590 480 Z" fill="#2b2b30"/>
<!-- handlebar -->
<path d="M425 235 L447 238 L464 318 L440 322 Z" fill="#2a2a2e"/>
<path d="M415 298 L495 294 L500 322 L420 330 Z" fill="#4e2626"/>
<path d="M428 240 L438 222 L452 262 L440 270 Z" fill="#1a1a1c"/>
</g></g>
<use href="#scooter" x="170" y="4.1"/>
</svg>
</body></html>
